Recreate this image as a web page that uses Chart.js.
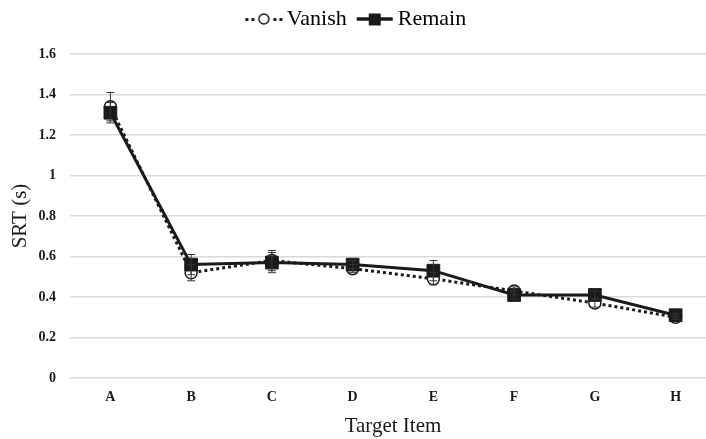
<!DOCTYPE html>
<html>
<head>
<meta charset="utf-8">
<script src="https://cdn.jsdelivr.net/npm/chart.js@4"></script>
<style>
  html, body { margin: 0; padding: 0; background: #fff; overflow: hidden; }
  canvas { display: block; }
</style>
</head>
<body>
<canvas id="c" width="706" height="439"></canvas>
<script>
// data
const categories = ["A", "B", "C", "D", "E", "F", "G", "H"];
const vanish = [1.34, 0.52, 0.58, 0.54, 0.49, 0.43, 0.37, 0.30];
const remain = [1.31, 0.56, 0.57, 0.56, 0.53, 0.41, 0.41, 0.31];
const vanishErr = [0.07, 0.04, 0.05, 0.02, 0.03, 0.02, 0.02, 0.01];
const remainErr = [0.05, 0.05, 0.05, 0.02, 0.05, 0.02, 0.02, 0.01];

const serif = "'Liberation Serif', 'DejaVu Serif', serif";
const ink = "#1a1a1a";

// legend symbols: little line + marker, drawn in the right 40px of a 48px canvas
function makeSymbol(dotted, square) {
  const cv = document.createElement("canvas");
  cv.width = 48; cv.height = 16;
  const g = cv.getContext("2d");
  g.translate(8, 0);
  g.strokeStyle = ink;
  g.fillStyle = ink;
  if (dotted) {
    [3, 9, 31, 37].forEach((x) => g.fillRect(x - 1.5, 7, 3, 3));
  } else {
    g.lineWidth = 3.5;
    g.beginPath(); g.moveTo(2, 8); g.lineTo(38, 8); g.stroke();
  }
  if (square) {
    g.fillRect(14, 2.5, 12, 12);
  } else {
    g.fillStyle = "#fff";
    g.lineWidth = 1.5;
    g.beginPath(); g.arc(20, 8, 5, 0, Math.PI * 2); g.fill(); g.stroke();
  }
  return cv;
}
const vanishSym = makeSymbol(true, false);
const remainSym = makeSymbol(false, true);

// extra room under the legend
const legendGap = {
  id: "legendGap",
  beforeInit(chart) {
    const fit = chart.legend.fit;
    chart.legend.fit = function () {
      fit.call(this);
      this.height += 14;
    };
  }
};

// the plot area runs past the right edge of the picture
const widenPlot = {
  id: "widenPlot",
  afterLayout(chart) {
    const x = chart.scales.x;
    const extra = 20;
    x.right += extra;
    x.width += extra;
    x.configure();
    chart.chartArea.right += extra;
    chart.chartArea.width += extra;
  }
};

// error bars drawn after the lines
const errorBars = {
  id: "errorBars",
  afterDatasetsDraw(chart) {
    const ctx = chart.ctx;
    const y = chart.scales.y;
    ctx.save();
    ctx.strokeStyle = "#333";
    ctx.lineWidth = 1;
    chart.data.datasets.forEach((ds, i) => {
      const meta = chart.getDatasetMeta(i);
      meta.data.forEach((pt, j) => {
        const v = ds.data[j], e = ds.err[j];
        const top = y.getPixelForValue(v + e);
        const bot = y.getPixelForValue(v - e);
        ctx.beginPath();
        ctx.moveTo(pt.x, top); ctx.lineTo(pt.x, bot);
        ctx.moveTo(pt.x - 4, top); ctx.lineTo(pt.x + 4, top);
        ctx.moveTo(pt.x - 4, bot); ctx.lineTo(pt.x + 4, bot);
        ctx.stroke();
      });
    });
    ctx.restore();
  }
};

new Chart(document.getElementById("c"), {
  type: "line",
  data: {
    labels: categories,
    datasets: [
      {
        label: "Vanish",
        data: vanish,
        err: vanishErr,
        order: 1,
        borderColor: ink,
        borderWidth: 3,
        borderDash: [3, 3],
        pointStyle: "circle",
        pointRadius: 6,
        pointBackgroundColor: "#fff",
        pointBorderColor: ink,
        pointBorderWidth: 1.5,
        tension: 0
      },
      {
        label: "Remain",
        data: remain,
        err: remainErr,
        order: 0,
        borderColor: ink,
        borderWidth: 3,
        pointStyle: "rect",
        pointRadius: 9,
        pointBackgroundColor: ink,
        pointBorderColor: ink,
        pointBorderWidth: 1,
        tension: 0
      }
    ]
  },
  options: {
    responsive: false,
    animation: false,
    layout: { padding: { top: 0, right: 0, left: 4, bottom: 0 } },
    plugins: {
      tooltip: { enabled: false },
      legend: {
        position: "top",
        labels: {
          usePointStyle: true,
          pointStyleWidth: 32,
          padding: 8,
          color: ink,
          font: { family: serif, size: 22 },
          generateLabels() {
            return [
              { text: "Vanish", pointStyle: vanishSym, fillStyle: "#fff", strokeStyle: ink, lineWidth: 0, datasetIndex: 0 },
              { text: "Remain", pointStyle: remainSym, fillStyle: ink, strokeStyle: ink, lineWidth: 0, datasetIndex: 1 }
            ];
          }
        }
      }
    },
    scales: {
      x: {
        offset: true,
        grid: { display: false },
        border: { display: false },
        ticks: { color: ink, font: { family: serif, size: 14, weight: "bold" }, padding: 3 },
        title: { display: true, text: "Target Item", color: ink, font: { family: serif, size: 21 }, padding: { top: 0, bottom: 0 } },
        afterFit(s) { s.height = 61; }
      },
      y: {
        min: 0,
        max: 1.6,
        ticks: {
          stepSize: 0.2,
          color: ink,
          padding: 14,
          font: { family: serif, size: 14, weight: "bold" },
          callback: (v) => Math.round(v * 10) / 10
        },
        grid: { color: "#d9d9d9", lineWidth: 1.5, drawTicks: false },
        border: { display: false },
        title: { display: true, text: "SRT (s)", color: ink, font: { family: serif, size: 21 } },
        afterFit(s) { s.width = 66; }
      }
    }
  },
  plugins: [errorBars, legendGap, widenPlot]
});
</script>
</body>
</html>
